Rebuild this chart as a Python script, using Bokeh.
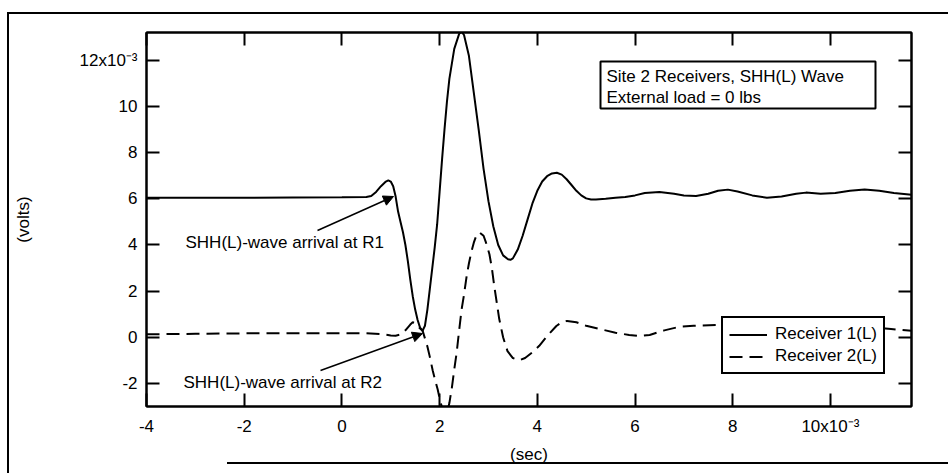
from bokeh.plotting import figure
from bokeh.models import (LinearAxis, FixedTicker, Label, Arrow, NormalHead,
                          BoxAnnotation, Legend, LegendItem, Range1d)
from bokeh.embed import file_html
from bokeh.resources import INLINE

# ---- data (time in 10^-3 s, signal in 10^-3 V) ----
t1 = [-4.0, -3.0, -2.0, -1.0, 0.0, 0.5, 0.6, 0.7, 0.8, 0.9, 0.95, 1.0, 1.05, 1.1,
      1.15, 1.2, 1.25, 1.3, 1.35, 1.4, 1.45, 1.5, 1.55, 1.6, 1.65, 1.7, 1.75, 1.8,
      1.85, 1.9, 1.95, 2.0, 2.05, 2.1, 2.15, 2.2, 2.3, 2.4, 2.45, 2.5, 2.6, 2.7,
      2.8, 2.9, 3.0, 3.1, 3.2, 3.3, 3.4, 3.45, 3.5, 3.6, 3.7, 3.8, 3.9, 4.0, 4.1,
      4.2, 4.3, 4.4, 4.5, 4.6, 4.7, 4.8, 4.9, 5.0, 5.1, 5.2, 5.4, 5.6, 5.8, 6.0,
      6.2, 6.5, 6.8, 7.0, 7.25, 7.5, 7.7, 7.9, 8.1, 8.4, 8.7, 9.0, 9.3, 9.5, 9.8,
      10.1, 10.4, 10.7, 11.0, 11.3, 11.66]
r1 = [6.05, 6.05, 6.05, 6.06, 6.07, 6.08, 6.12, 6.3, 6.55, 6.75, 6.8, 6.75, 6.55, 6.1,
      5.45, 5.0, 4.55, 4.0, 3.3, 2.5, 1.78, 1.2, 0.75, 0.42, 0.28, 0.5, 1.2, 2.1,
      3.0, 3.9, 4.9, 6.3, 7.7, 9.0, 10.2, 11.2, 12.5, 13.15, 13.25, 13.1, 12.2, 10.6,
      9.0, 7.3, 5.9, 4.8, 4.0, 3.55, 3.38, 3.36, 3.42, 3.8, 4.4, 5.1, 5.8, 6.35, 6.75,
      6.98, 7.1, 7.13, 7.05, 6.85, 6.6, 6.35, 6.15, 6.02, 5.97, 5.97, 6.0, 6.05, 6.08, 6.15,
      6.25, 6.3, 6.22, 6.15, 6.12, 6.22, 6.35, 6.4, 6.32, 6.15, 6.05, 6.1, 6.22, 6.27, 6.22,
      6.25, 6.35, 6.4, 6.35, 6.25, 6.18]

t2 = [-4.0, -3.0, -2.0, -1.0, 0.0, 0.5, 0.8, 1.0, 1.1, 1.2, 1.3, 1.4, 1.45, 1.5,
      1.55, 1.6, 1.65, 1.7, 1.75, 1.8, 1.86, 1.92, 1.96, 2.0, 2.05, 2.1, 2.15, 2.2,
      2.25, 2.3, 2.35, 2.4, 2.45, 2.5, 2.55, 2.6, 2.65, 2.7, 2.75, 2.82, 2.9, 2.95,
      3.02, 3.07, 3.12, 3.17, 3.22, 3.3, 3.39, 3.5, 3.63, 3.75, 3.9, 4.04, 4.2, 4.39,
      4.5, 4.61, 4.8, 5.0, 5.27, 5.6, 5.88, 6.05, 6.3, 6.6, 6.9, 7.2, 7.65, 8.0, 8.5,
      9.0, 9.5, 10.0, 10.5, 11.0, 11.24, 11.66]
r2 = [0.13, 0.15, 0.17, 0.17, 0.18, 0.17, 0.14, 0.08, 0.07, 0.12, 0.3, 0.55, 0.65, 0.62,
      0.5, 0.38, 0.3, -0.05, -0.4, -0.85, -1.45, -1.95, -2.25, -2.65, -3.05, -3.35, -3.3, -2.85,
      -2.2, -1.4, -0.65, 0.3, 1.2, 1.85, 2.6, 3.2, 3.7, 4.1, 4.4, 4.54, 4.4, 4.1,
      3.6, 3.0, 2.2, 1.5, 0.8, 0.0, -0.6, -0.9, -1.0, -0.9, -0.65, -0.37, 0.05, 0.49,
      0.65, 0.71, 0.65, 0.5, 0.36, 0.2, 0.1, 0.06, 0.1, 0.3, 0.45, 0.5, 0.53, 0.55, 0.55,
      0.55, 0.52, 0.5, 0.45, 0.4, 0.36, 0.28]

x_ticks = [-4, -2, 0, 2, 4, 6, 8, 10]
y_ticks = [-2, 0, 2, 4, 6, 8, 10, 12]
x_tick_labels = ["-4", "-2", "0", "2", "4", "6", "8", "10x10\u207b\u00b3"]
y_tick_labels = ["-2", "0", "2", "4", "6", "8", "10", "12x10\u207b\u00b3"]
series_names = ["Receiver 1(L)", "Receiver 2(L)"]
x_title = "(sec)"
y_title = "(volts)"

FONT = "Liberation Sans"
FS = "17px"

p = figure(width=948, height=473, frame_width=765, frame_height=374,
           x_range=Range1d(-4.0, 11.66), y_range=Range1d(-3.0, 13.21),
           output_backend="svg", toolbar_location=None,
           min_border_left=146, min_border_right=37, min_border_top=32,
           min_border_bottom=67, x_axis_location=None, y_axis_location=None)
p.xgrid.visible = False
p.ygrid.visible = False
p.outline_line_color = "black"
p.outline_line_width = 2
p.background_fill_color = "white"
p.border_fill_alpha = 0.0
# outer page frame (left, top and partial bottom rules) drawn behind the canvas
p.styles = {
    "background-color": "white",
    "background-image": ("linear-gradient(#000, #000), linear-gradient(#000, #000), "
                         "linear-gradient(#000, #000)"),
    "background-size": "2px 461px, 941px 2px, 721px 2px",
    "background-position": "7px 12px, 7px 12px, 227px 462px",
    "background-repeat": "no-repeat",
}


def make_axis(ticks, labels, standoff, title=None, title_standoff=0):
    ax = LinearAxis(ticker=FixedTicker(ticks=ticks, minor_ticks=[]))
    ax.major_label_overrides = dict(zip(ticks, labels))
    ax.major_tick_in = 13
    ax.major_tick_out = 0
    ax.minor_tick_in = 0
    ax.minor_tick_out = 0
    ax.axis_line_width = 2
    ax.axis_line_color = "black"
    ax.major_tick_line_width = 2
    ax.major_tick_line_color = "black"
    ax.major_label_text_font = FONT
    ax.major_label_text_font_size = FS
    ax.major_label_text_color = "black"
    ax.major_label_standoff = standoff
    if title:
        ax.axis_label = title
        ax.axis_label_text_font = FONT
        ax.axis_label_text_font_size = FS
        ax.axis_label_text_font_style = "normal"
        ax.axis_label_text_color = "black"
        ax.axis_label_standoff = title_standoff
    return ax


p.add_layout(make_axis(x_ticks, x_tick_labels, 10, x_title, 6), "below")
p.add_layout(make_axis(y_ticks, y_tick_labels, 9, y_title, 44), "left")
p.add_layout(make_axis(x_ticks, [""] * len(x_ticks), 0), "above")
p.add_layout(make_axis(y_ticks, [""] * len(y_ticks), 0), "right")

l1 = p.line(t1, r1, line_color="black", line_width=2)
l2 = p.line(t2, r2, line_color="black", line_width=2, line_dash="13 7")

legend = Legend(items=[LegendItem(label=series_names[0], renderers=[l1]),
                       LegendItem(label=series_names[1], renderers=[l2])],
                location=(575, 32))
legend.border_line_color = "black"
legend.border_line_alpha = 1.0
legend.border_line_width = 2
legend.background_fill_color = "white"
legend.background_fill_alpha = 1.0
legend.label_text_font = FONT
legend.label_text_font_size = FS
legend.label_text_color = "black"
legend.padding = 6
legend.spacing = 2
legend.glyph_width = 38
legend.glyph_height = 17
legend.label_height = 17
legend.label_standoff = 8
legend.margin = 0
p.add_layout(legend)

# info box
p.add_layout(BoxAnnotation(left=600, right=875, top=61, bottom=108,
                           left_units="canvas", right_units="canvas",
                           top_units="canvas", bottom_units="canvas",
                           fill_color="white", fill_alpha=1.0,
                           line_color="black", line_alpha=1.0, line_width=2))
for txt, yy in [("Site 2 Receivers, SHH(L) Wave", 76), ("External load = 0 lbs", 97)]:
    p.add_layout(Label(x=606, y=yy, x_units="canvas", y_units="canvas", text=txt,
                       text_font=FONT, text_font_size=FS, text_color="black",
                       text_align="left", text_baseline="middle"))

# arrival annotations
for txt, (lx, ly), (xs, ys, xe, ye) in [
        ("SHH(L)-wave arrival at R1", (185, 242), (317, 230, 393, 196)),
        ("SHH(L)-wave arrival at R2", (183, 382), (320, 370, 422, 333))]:
    p.add_layout(Label(x=lx, y=ly, x_units="canvas", y_units="canvas", text=txt,
                       text_font=FONT, text_font_size=FS, text_color="black",
                       text_align="left", text_baseline="middle"))
    p.add_layout(Arrow(end=NormalHead(size=10, fill_color="black", line_color="black"),
                       x_start=xs, y_start=ys, x_end=xe, y_end=ye,
                       start_units="canvas", end_units="canvas",
                       line_color="black", line_width=1.5))

open("out.html", "w").write(file_html(p, INLINE))
